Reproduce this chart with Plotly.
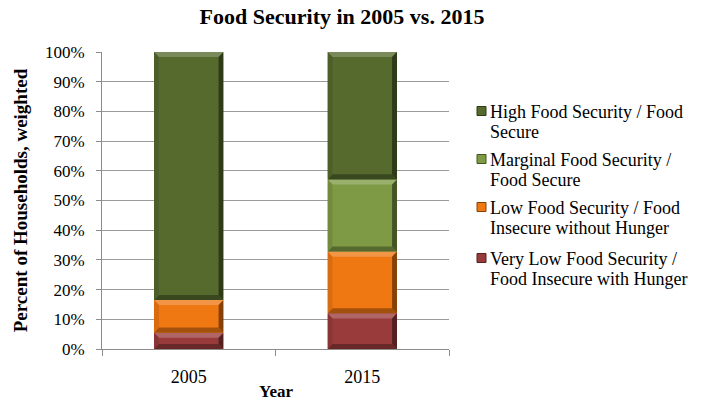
import plotly.graph_objects as go

years = ["2005", "2015"]
series_names = [
    "Very Low Food Security /<br>Food Insecure with Hunger",
    "Low Food Security / Food<br>Insecure without Hunger",
    "Marginal Food Security /<br>Food Secure",
    "High Food Security / Food<br>Secure",
]
very_low = [5.5, 12.0]
low = [11.0, 20.8]
marginal = [0.0, 24.3]
high = [83.5, 42.9]

fills = ["#9a3b3b", "#f07812", "#7e9a45", "#566a2e"]

serif = "Liberation Serif"
BAR_W = 0.4
W, H = 704, 402
ML, MR, MT, MB = 102, 255, 52, 53
PW, PH = W - ML - MR, H - MT - MB


def px_x(px):
    return (px - ML) / PW


def px_y(py):
    return (H - MB - py) / PH


def mix(hex_color, target, t):
    h = hex_color.lstrip("#")
    r, g, b = (int(h[i:i + 2], 16) for i in (0, 2, 4))
    tr, tg, tb = target
    return "rgb({},{},{})".format(int(r + (tr - r) * t), int(g + (tg - g) * t), int(b + (tb - b) * t))


def bevel_shapes(xi, y0, y1, color):
    """Light/dark bevel faces drawn over one stacked segment."""
    if y1 - y0 <= 0:
        return []
    x0, x1 = xi - BAR_W / 2, xi + BAR_W / 2
    bx = 0.028
    by = min(1.7, (y1 - y0) / 2)
    faces = [
        ([(x0, y1), (x1, y1), (x1 - bx, y1 - by), (x0 + bx, y1 - by)], mix(color, (255, 255, 255), 0.22)),
        ([(x0, y0), (x1, y0), (x1 - bx, y0 + by), (x0 + bx, y0 + by)], mix(color, (0, 0, 0), 0.32)),
        ([(x0, y0), (x0, y1), (x0 + bx, y1 - by), (x0 + bx, y0 + by)], mix(color, (0, 0, 0), 0.10)),
        ([(x1, y0), (x1, y1), (x1 - bx, y1 - by), (x1 - bx, y0 + by)], mix(color, (0, 0, 0), 0.45)),
    ]
    out = []
    for pts, c in faces:
        path = "M " + " L ".join("{},{}".format(px, py) for px, py in pts) + " Z"
        out.append(dict(type="path", xref="x", yref="y", path=path,
                        fillcolor=c, line=dict(width=0), layer="above"))
    return out


fig = go.Figure()
series = [very_low, low, marginal, high]
for name, vals, fc in zip(series_names, series, fills):
    fig.add_trace(go.Bar(
        x=years, y=vals, name=name.replace("<br>", " "), width=BAR_W, showlegend=False,
        marker=dict(color=fc, line=dict(width=0)),
    ))

shapes = []
for xi in range(len(years)):
    base = 0.0
    for vals, fc in zip(series, fills):
        shapes += bevel_shapes(xi, base, base + vals[xi], fc)
        base += vals[xi]

# legend: keys and two-line labels, top entry = top of the stack
annotations = []
legend_rows = [112, 160, 208, 259]
for row_y, name, fc in zip(legend_rows, series_names[::-1], fills[::-1]):
    shapes.append(dict(type="rect", xref="paper", yref="paper",
                       x0=px_x(477), x1=px_x(486), y0=px_y(row_y + 3.5), y1=px_y(row_y - 5.5),
                       fillcolor=fc, line=dict(color=mix(fc, (0, 0, 0), 0.45), width=1)))
    for j, text_line in enumerate(name.split("<br>")):
        annotations.append(dict(xref="paper", yref="paper", x=px_x(488), y=px_y(row_y + 20 * j),
                                xanchor="left", yanchor="middle", showarrow=False, text=text_line,
                                font=dict(family=serif, size=18, color="black")))

# x-axis title, sitting on the bottom edge
annotations.append(dict(xref="paper", yref="paper", x=0.5, y=px_y(H),
                        xanchor="center", yanchor="bottom", showarrow=False, borderpad=0,
                        text="<b>Year</b>", font=dict(family=serif, size=17, color="black")))

fig.update_layout(
    width=W, height=H,
    barmode="stack",
    paper_bgcolor="white", plot_bgcolor="white",
    margin=dict(l=ML, r=MR, t=MT, b=MB),
    font=dict(family=serif, size=16, color="black"),
    title=dict(text="<b>Food Security in 2005 vs. 2015</b>",
               x=342 / W, xanchor="center", y=1 - 16 / H, yanchor="middle",
               font=dict(family=serif, size=22, color="black")),
    showlegend=False,
    shapes=shapes,
    annotations=annotations,
)
fig.update_xaxes(
    range=[-0.5, 1.5], automargin=False,
    showline=True, linecolor="#8c8c8c", linewidth=1,
    ticks="outside", tickson="boundaries", ticklen=6, tickcolor="#8c8c8c",
    ticklabelstandoff=11,
    tickfont=dict(family=serif, size=18),
)
fig.update_yaxes(
    range=[0, 100], dtick=10, ticksuffix="%", automargin=False,
    showgrid=True, gridcolor="#9a9a9a", gridwidth=1,
    showline=True, linecolor="#8c8c8c", linewidth=1,
    ticks="outside", ticklen=5, tickcolor="#8c8c8c",
    ticklabelstandoff=8,
    tickfont=dict(family=serif, size=17),
    title=dict(text="<b>Percent of Households, weighted</b>",
               font=dict(family=serif, size=19), standoff=12),
)

fig.write_html("out.html")
